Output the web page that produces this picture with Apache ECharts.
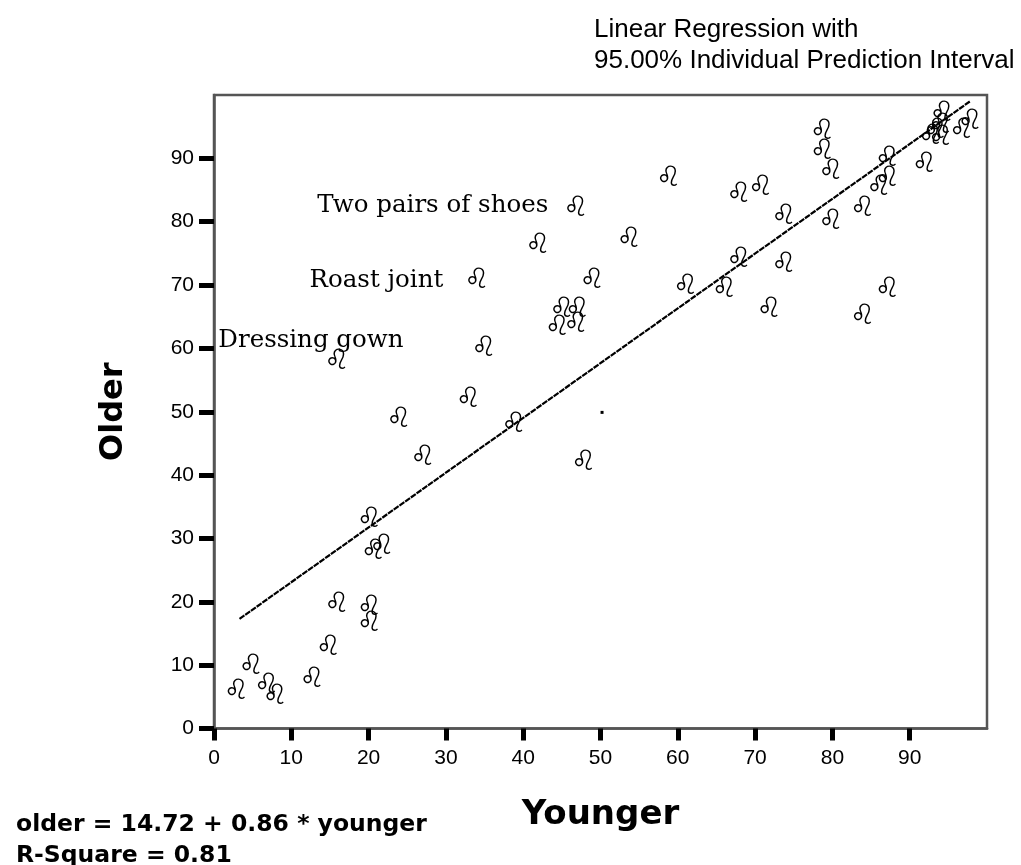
<!DOCTYPE html>
<html><head><meta charset="utf-8">
<script src="https://cdn.jsdelivr.net/npm/echarts@6/dist/echarts.min.js"></script>
<style>html,body{margin:0;padding:0;background:#fff}#c{width:1021px;height:865px}</style>
</head><body><div id="c"></div>
<script>
const younger = [2.9,4.8,6.8,7.9,12.7,14.8,15.9,20.1,20.1,20.1,20.6,21.7,27.0,23.9,15.9,32.9,38.8,47.8,34.9,34.0,44.4,46.8,45.0,47.0,48.9,41.9,46.8,53.7,58.8,61.0,66.0,67.9,67.9,70.7,71.8,73.7,73.7,78.7,78.7,79.8,79.8,83.9,83.9,86.0,87.1,87.1,87.1,91.9,92.7,94.0,93.3,94.0,94.2,96.7,97.8];
const older   = [5.8,9.8,6.8,5.0,7.7,12.7,19.5,19.0,16.6,32.9,27.9,28.7,42.8,48.7,57.9,51.9,47.9,41.9,60.0,70.7,63.2,63.7,66.1,66.1,70.7,76.2,82.1,77.1,86.8,69.7,69.2,74.0,84.2,85.3,66.1,73.2,80.8,94.2,91.0,87.9,80.0,82.1,65.0,85.3,86.8,90.0,69.2,89.0,93.4,93.2,94.3,95.2,97.1,94.3,95.8];
const labelNames = ['Two pairs of shoes','Roast joint','Dressing gown'];
const labelYounger = [46.8,34.0,15.9];
const labelOlder = [82.1,70.7,57.9];
const regYounger = [3.3,97.8];
const regOlder = [17.3,99.0];
const strayYounger = [50.2];
const strayOlder = [49.9];
const xTicks = [0,10,20,30,40,50,60,70,80,90];
const yTicks = [0,10,20,30,40,50,60,70,80,90];

const zip = (a,b)=>a.map((v,i)=>[v,b[i]]);
const labelStyles = [
  {position:'left', distance:27, offset:[0,-3]},
  {position:'left', distance:33, offset:[0,0]},
  {position:'top', distance:8, offset:[-26,0]}
];
const chart = echarts.init(document.getElementById('c'));
const axisCommon = {
  min:0, max:100, interval:10,
  axisLine:{show:true, lineStyle:{color:'#555', width:2.5}},
  splitLine:{show:false},
  axisLabel:{color:'#000', fontFamily:'Liberation Sans', fontSize:21},
  nameTextStyle:{color:'#000', fontFamily:'DejaVu Sans', fontWeight:'bold'}
};
chart.setOption({
  animation:false,
  backgroundColor:'#fff',
  title:[
    {text:'Linear Regression with\n95.00% Individual Prediction Interval', left:589, top:9,
     textStyle:{fontFamily:'Liberation Sans', fontWeight:'normal', fontSize:26, lineHeight:31, color:'#000'}},
    {text:'older = 14.72 + 0.86 * younger\nR-Square = 0.81', left:11, top:804,
     textStyle:{fontFamily:'DejaVu Sans', fontWeight:'bold', fontSize:23.5, lineHeight:31, color:'#000'}}
  ],
  grid:{left:214, right:34, top:95, bottom:136.5, show:true, borderColor:'#555', borderWidth:2.5, backgroundColor:'#fff'},
  xAxis:Object.assign({}, axisCommon, {
    type:'value', name:'Younger', nameLocation:'middle', nameGap:70,
    nameTextStyle:{color:'#000', fontFamily:'DejaVu Sans', fontWeight:'bold', fontSize:34},
    axisTick:{show:true, length:12, lineStyle:{color:'#000', width:5}, customValues:xTicks},
    axisLabel:Object.assign({}, axisCommon.axisLabel, {margin:19, customValues:xTicks})
  }),
  yAxis:Object.assign({}, axisCommon, {
    type:'value', name:'Older', nameLocation:'middle', nameGap:84,
    nameTextStyle:{color:'#000', fontFamily:'DejaVu Sans', fontWeight:'bold', fontSize:32},
    axisTick:{show:true, length:15, lineStyle:{color:'#000', width:5}, customValues:yTicks},
    axisLabel:Object.assign({}, axisCommon.axisLabel, {margin:20, customValues:yTicks})
  }),
  series:[
    {type:'line', data:zip(regYounger, regOlder), symbol:'none', silent:true,
     lineStyle:{color:'#000', width:2.2, type:[6,1]}, z:3},
    {type:'scatter', data:zip(younger, older), symbolSize:1, itemStyle:{color:'rgba(0,0,0,0)', opacity:1},
     label:{show:true, position:'inside', formatter:'\u264C', fontFamily:'DejaVu Sans', fontSize:28, color:'#000', opacity:1}, z:4},
    {type:'scatter', data:zip(strayYounger, strayOlder), symbol:'rect', symbolSize:3, itemStyle:{color:'#000', opacity:1}, z:4},
    {type:'scatter', symbolSize:1, itemStyle:{color:'rgba(0,0,0,0)', opacity:1}, z:5,
     data:labelNames.map((n,i)=>({name:n, value:[labelYounger[i], labelOlder[i]], label:labelStyles[i]})),
     label:{show:true, formatter:'{b}', fontFamily:'DejaVu Serif', fontSize:24.5, color:'#000', opacity:1}}
  ]
});
</script></body></html>
